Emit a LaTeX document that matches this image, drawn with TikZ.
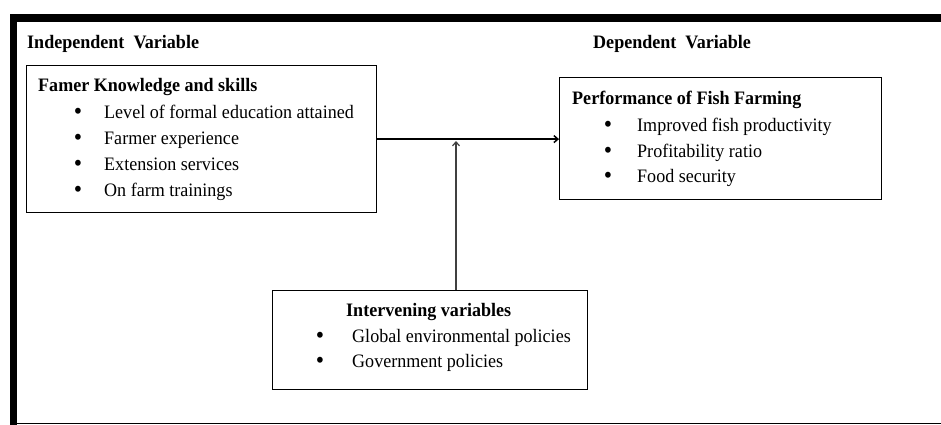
\documentclass[tikz,border=0pt]{standalone}
\usepackage{fontspec}
\setmainfont{Liberation Serif}[FakeStretch=0.95]
\usetikzlibrary{arrows.meta}
\begin{document}
\begin{tikzpicture}[x=1pt,y=-1pt,
  font=\fontsize{19}{19}\selectfont,
  box/.style={draw,line width=1.2pt,anchor=north west,inner sep=0pt},
  txt/.style={anchor=base west,inner sep=0pt},
  bul/.style={anchor=base,inner sep=0pt,font=\fontsize{25}{25}\selectfont},
  conn/.style={line width=1.5pt,-{Straight Barb[length=4pt,width=7pt]}},
  vconn/.style={line width=1.2pt,draw=black!75,-{Straight Barb[length=4pt,width=7pt]}}]
\useasboundingbox (0,0) rectangle (941,425);
% frame
\fill (10,14) rectangle (941,22);
\fill (10,14) rectangle (17,425);
\draw[line width=1.3pt] (17,423.5) -- (941,423.5);
% headers
\node[txt,font=\fontsize{19}{19}\selectfont\bfseries] (hind) at (27,49) {Independent\ \ Variable};
\node[txt,font=\fontsize{19}{19}\selectfont\bfseries] (hdep) at (593,49) {Dependent\ \ Variable};
% boxes
\node[box,minimum width=350pt,minimum height=147pt] (kb) at (26,65) {};
\node[box,minimum width=322pt,minimum height=122pt] (pf) at (559,77) {};
\node[box,minimum width=315pt,minimum height=99pt] (iv) at (272,290) {};
% left box text
\node[txt,font=\fontsize{19}{19}\selectfont\bfseries] (kbt) at (38,92) {Famer Knowledge and skills};
\node[bul] (kb1b) at (78,119) {\textbullet};
\node[txt] (kb1) at (104,118) {Level of formal education attained};
\node[bul] (kb2b) at (78,145) {\textbullet};
\node[txt] (kb2) at (104,144) {Farmer experience};
\node[bul] (kb3b) at (78,171) {\textbullet};
\node[txt] (kb3) at (104,170) {Extension services};
\node[bul] (kb4b) at (78,197) {\textbullet};
\node[txt] (kb4) at (104,196) {On farm trainings};
% right box text
\node[txt,font=\fontsize{19}{19}\selectfont\bfseries] (pft) at (572,105) {Performance of Fish Farming};
\node[bul] (pf1b) at (608,132) {\textbullet};
\node[txt] (pf1) at (637,131) {Improved fish productivity};
\node[bul] (pf2b) at (608,158) {\textbullet};
\node[txt] (pf2) at (637,157) {Profitability ratio};
\node[bul] (pf3b) at (608,183) {\textbullet};
\node[txt] (pf3) at (637,182) {Food security};
% intervening box text
\node[txt,font=\fontsize{19}{19}\selectfont\bfseries] (ivt) at (346,316) {Intervening variables};
\node[bul] (iv1b) at (320,343) {\textbullet};
\node[txt] (iv1) at (352,342) {Global environmental policies};
\node[bul] (iv2b) at (320,368) {\textbullet};
\node[txt] (iv2) at (352,367) {Government policies};
% connectors
\draw[conn] (kb.east) -- (kb.east -| pf.west);
\coordinate (vtip) at (456,141);
\draw[vconn] (vtip |- iv.north) -- (vtip);
\end{tikzpicture}
\end{document}
